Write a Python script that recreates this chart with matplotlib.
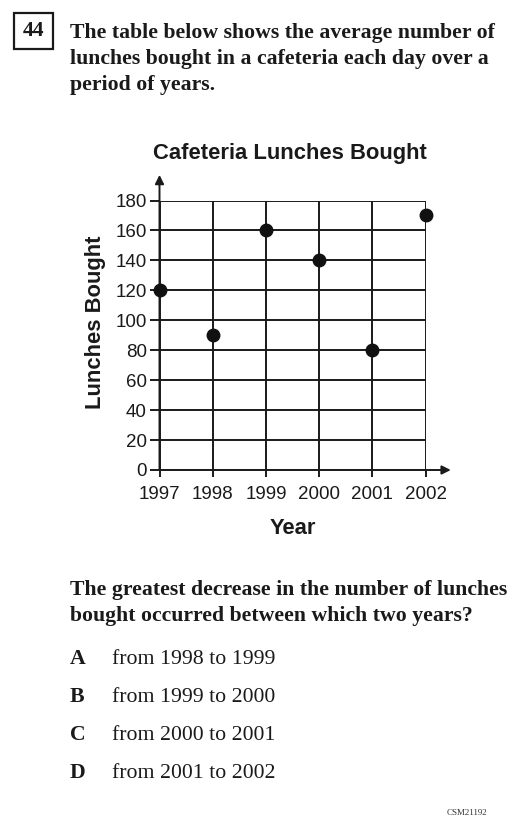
import matplotlib
matplotlib.use("Agg")
import matplotlib.pyplot as plt
from matplotlib.patches import Rectangle

# data
years = [1997, 1998, 1999, 2000, 2001, 2002]
lunches = [120, 90, 160, 140, 80, 170]
y_ticks = [0, 20, 40, 60, 80, 100, 120, 140, 160, 180]

question_lines = ["The table below shows the average number of",
                  "lunches bought in a cafeteria each day over a",
                  "period of years."]
ask_lines = ["The greatest decrease in the number of lunches",
             "bought occurred between which two years?"]
choice_letters = ["A", "B", "C", "D"]
choice_texts = ["from 1998 to 1999", "from 1999 to 2000",
                "from 2000 to 2001", "from 2001 to 2002"]

W, H = 525, 827
fig = plt.figure(figsize=(W / 100, H / 100), dpi=100)
fig.patch.set_facecolor("white")


def px(x, y):
    # pixel coords (from top left) to figure fraction
    return x / W, 1 - y / H


serif = "Liberation Serif"
sans = "Liberation Sans"
ink = "#1a1a1a"
fs_serif = 15.7
fs_bold = 15.8

# question number box
fig.patches.append(Rectangle(px(14, 49), 39 / W, 36 / H, transform=fig.transFigure,
                             fill=False, lw=1.6, ec=ink))
fig.text(*px(33.5, 31), "44", family=serif, weight="bold", fontsize=fs_serif,
         ha="center", va="center", color=ink)
for i, line in enumerate(question_lines):
    fig.text(*px(70, 33 + i * 26), line, family=serif, weight="bold", fontsize=fs_serif,
             ha="left", va="center", color=ink)

# chart
x0, x1 = 159.5, 425.5
ytop, ybot = 200.5, 470
ax = fig.add_axes([x0 / W, 1 - ybot / H, (x1 - x0) / W, (ybot - ytop) / H])
ax.set_xlim(years[0], years[-1])
ax.set_ylim(y_ticks[0], y_ticks[-1])
ax.set_xticks(years)
ax.set_yticks(y_ticks)
ax.set_xticklabels([str(y) for y in years], family=sans, fontsize=13.5)
ax.set_yticklabels([str(v) for v in y_ticks], family=sans, fontsize=13.5)
ax.grid(True, color=ink, lw=1.4)
ax.set_axisbelow(True)
for s in ax.spines.values():
    s.set_visible(False)
ax.tick_params(axis="y", direction="out", length=7, width=1.4, color=ink, pad=2, labelcolor=ink)
ax.tick_params(axis="x", direction="out", length=4.7, width=1.4, color=ink, pad=7, labelcolor=ink)
ax.plot(years, lunches, "o", color="#111111", ms=9, clip_on=False, zorder=5)

# axis arrows
arrow = dict(arrowstyle="-|>", color=ink, lw=1.4, mutation_scale=13, shrinkA=0, shrinkB=0)
ax.annotate("", xy=(1.095, 0), xytext=(0, 0), xycoords="axes fraction",
            textcoords="axes fraction", arrowprops=arrow, annotation_clip=False)
ax.annotate("", xy=(0, 1.095), xytext=(0, 0), xycoords="axes fraction",
            textcoords="axes fraction", arrowprops=arrow, annotation_clip=False)

fig.text(*px(290, 153), "Cafeteria Lunches Bought", family=sans, weight="bold",
         fontsize=fs_bold, ha="center", va="center", color=ink)
fig.text(*px(96, 322), "Lunches Bought", family=sans, weight="bold", fontsize=fs_bold,
         ha="center", va="center", rotation=90, color=ink)
fig.text(*px(293, 528), "Year", family=sans, weight="bold", fontsize=fs_bold,
         ha="center", va="center", color=ink)

# question and choices
for i, line in enumerate(ask_lines):
    fig.text(*px(70, 590 + i * 26), line, family=serif, weight="bold", fontsize=fs_serif,
             ha="left", va="center", color=ink)
for i, (lt, txt) in enumerate(zip(choice_letters, choice_texts)):
    y = 659 + i * 38
    fig.text(*px(70, y), lt, family=serif, weight="bold", fontsize=fs_serif,
             ha="left", va="center", color=ink)
    fig.text(*px(112, y), txt, family=serif, fontsize=fs_serif, ha="left", va="center",
             color=ink)

fig.text(*px(487, 813), "CSM21192", family=serif, fontsize=6.5, ha="right",
         va="center", color="#333333")

fig.savefig("out.png", dpi=100)
